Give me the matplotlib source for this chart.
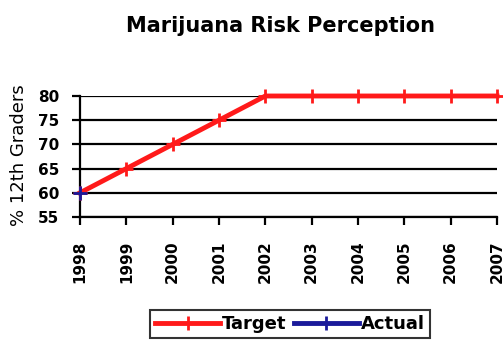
import matplotlib
matplotlib.use("Agg")
import matplotlib.pyplot as plt

years = [1998, 1999, 2000, 2001, 2002, 2003, 2004, 2005, 2006, 2007]
target = [60, 65, 70, 75, 80, 80, 80, 80, 80, 80]
actual_years = [1998]
actual = [60]
yticks = [55, 60, 65, 70, 75, 80]

plt.rcParams['font.family'] = ['DejaVu Sans']

fig = plt.figure(figsize=(5.03, 3.44), dpi=100)
ax = fig.add_axes([80 / 503, 1 - 217 / 344, 417 / 503, 121 / 344])

for y in yticks:
    ax.axhline(y, color='black', lw=1.6, zorder=1)

ax.plot(years, target, color='#ff1a1a', lw=3.5, marker='+', ms=10, mew=2,
        label='Target', zorder=3, clip_on=False)
ax.plot(actual_years, actual, color='#1a1a9a', lw=3.5, marker='+', ms=10, mew=2,
        label='Actual', zorder=4, clip_on=False)

ax.set_xlim(years[0], years[-1])
ax.set_ylim(55, 80)
ax.set_xticks(years)
ax.set_xticklabels([str(y) for y in years], rotation=90, fontsize=11,
                   fontweight='bold')
ax.set_yticks(yticks)
ax.set_yticklabels([str(y) for y in yticks], fontsize=11, fontweight='bold')
ax.tick_params(axis='both', direction='out', length=6, width=1.6, color='black')
ax.tick_params(axis='x', pad=11)
ax.tick_params(axis='y', pad=9)

for s in ['top', 'right']:
    ax.spines[s].set_visible(False)
for s in ['left', 'bottom']:
    ax.spines[s].set_linewidth(1.6)
    ax.spines[s].set_color('black')

ax.set_ylabel('% 12th Graders', fontsize=13)
ax.yaxis.set_label_coords((28 - 80) / 417, (217 - 155) / 121)

fig.text(280 / 503, 1 - 31.5 / 344, 'Marijuana Risk Perception', ha='center',
         va='baseline', fontsize=15, fontweight='bold')

leg = fig.legend(loc='center', bbox_to_anchor=(290 / 503, 1 - 324 / 344), ncol=2,
                 frameon=True, fancybox=False, edgecolor='black',
                 prop={'weight': 'bold', 'size': 13}, handlelength=3.6,
                 handletextpad=0.1, columnspacing=0.4, borderpad=0.3)
leg.get_frame().set_linewidth(1.5)

fig.savefig('out.png', dpi=100)
